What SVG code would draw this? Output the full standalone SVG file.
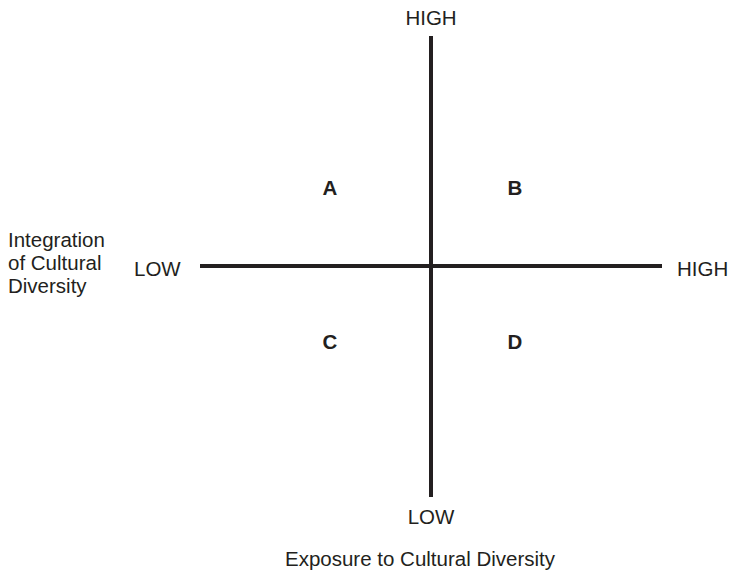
<svg xmlns="http://www.w3.org/2000/svg" width="732" height="571" viewBox="0 0 732 571">
<style>
text{font-family:"Liberation Sans",Arial,sans-serif;font-size:20.5px;fill:#231f20}
.q{font-weight:bold}
.axis{stroke:#231f20;stroke-width:4;fill:none}
</style>
<rect width="732" height="571" fill="#fff"/>
<g id="connectors">
<line class="axis" x1="431" y1="36" x2="431" y2="497"/>
<line class="axis" x1="200" y1="266" x2="662" y2="266"/>
</g>
<g id="label-high-top"><text x="431" y="25" text-anchor="middle">HIGH</text></g>
<g id="label-low-bottom"><text x="431" y="524" text-anchor="middle">LOW</text></g>
<g id="label-low-left"><text x="134" y="276">LOW</text></g>
<g id="label-high-right"><text x="677" y="276">HIGH</text></g>
<g id="y-title"><text x="8" y="247">Integration</text><text x="8" y="270">of Cultural</text><text x="8" y="293">Diversity</text></g>
<g id="x-title"><text x="420" y="566" text-anchor="middle">Exposure to Cultural Diversity</text></g>
<g id="quad-A"><text class="q" x="330" y="195" text-anchor="middle">A</text></g>
<g id="quad-B"><text class="q" x="515" y="195" text-anchor="middle">B</text></g>
<g id="quad-C"><text class="q" x="330" y="349" text-anchor="middle">C</text></g>
<g id="quad-D"><text class="q" x="515" y="349" text-anchor="middle">D</text></g>
</svg>
